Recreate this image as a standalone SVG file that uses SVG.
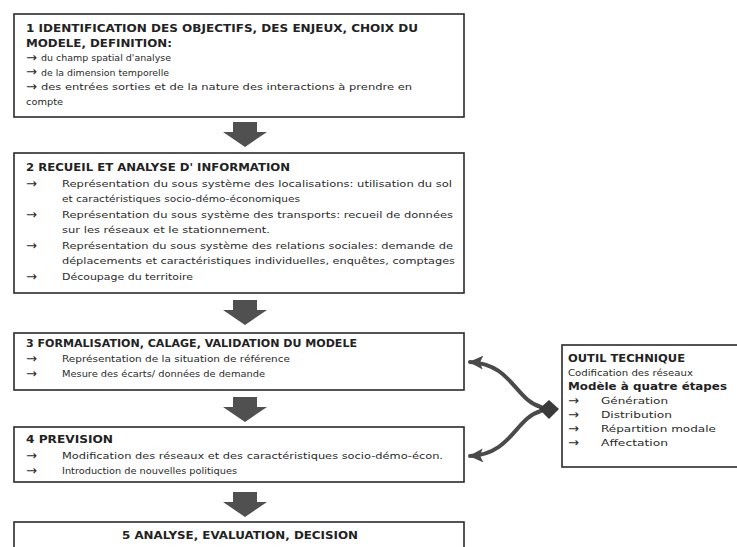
<svg xmlns="http://www.w3.org/2000/svg" width="737" height="547" viewBox="0 0 737 547">
  <style>
    .box { fill: #ffffff; stroke: #2a2a2a; stroke-width: 1.6; }
    .h { font-family: "DejaVu Sans", Verdana, sans-serif; font-size: 10px; font-weight: bold; fill: #222222; }
    .t { font-family: "DejaVu Sans", Verdana, sans-serif; font-size: 9.5px; fill: #2a2a2a; }
    .a { font-family: "DejaVu Sans", Verdana, sans-serif; font-size: 13px; fill: #2a2a2a; }
    .step { fill: #505050; }
    .link { fill: none; stroke: #4a4a4a; stroke-width: 4; stroke-linecap: round; }
  </style>
  <defs>
    <marker id="head" markerUnits="userSpaceOnUse" markerWidth="16" markerHeight="16" refX="13" refY="7" orient="auto">
      <path d="M0,0 L14,7 L0,14 L3,7 z" fill="#4a4a4a"/>
    </marker>
  </defs>
  <rect width="737" height="547" fill="#ffffff"/>

  <!-- step 1 -->
  <g id="step1">
    <rect class="box" x="14" y="14" width="450" height="103"/>
    <text class="h" x="26" y="32" textLength="392" lengthAdjust="spacingAndGlyphs">1 IDENTIFICATION DES OBJECTIFS, DES ENJEUX, CHOIX DU</text>
    <text class="h" x="26" y="46.5" textLength="146" lengthAdjust="spacingAndGlyphs">MODELE, DEFINITION:</text>
    <text class="a" x="26" y="61.5">→</text>
    <text class="t" x="41" y="61" textLength="130" lengthAdjust="spacingAndGlyphs">du champ spatial d'analyse</text>
    <text class="a" x="26" y="76">→</text>
    <text class="t" x="41" y="75.5" textLength="128" lengthAdjust="spacingAndGlyphs">de la dimension temporelle</text>
    <text class="a" x="26" y="90.5">→</text>
    <text class="t" x="41" y="90" textLength="371" lengthAdjust="spacingAndGlyphs">des entrées sorties et de la nature des interactions à prendre en</text>
    <text class="t" x="26" y="104.5" textLength="37" lengthAdjust="spacingAndGlyphs">compte</text>
  </g>

  <!-- step 2 -->
  <g id="step2">
    <rect class="box" x="14" y="153" width="450" height="140"/>
    <text class="h" x="26" y="171" textLength="264" lengthAdjust="spacingAndGlyphs">2 RECUEIL ET ANALYSE D' INFORMATION</text>
    <text class="a" x="26" y="187.5">→</text>
    <text class="t" x="62" y="187" textLength="390" lengthAdjust="spacingAndGlyphs">Représentation du sous système des localisations: utilisation du sol</text>
    <text class="t" x="62" y="202" textLength="238" lengthAdjust="spacingAndGlyphs">et caractéristiques socio-démo-économiques</text>
    <text class="a" x="26" y="218.5">→</text>
    <text class="t" x="62" y="218" textLength="391" lengthAdjust="spacingAndGlyphs">Représentation du sous système des transports: recueil de données</text>
    <text class="t" x="62" y="233" textLength="208" lengthAdjust="spacingAndGlyphs">sur les réseaux et le stationnement.</text>
    <text class="a" x="26" y="249.5">→</text>
    <text class="t" x="62" y="249" textLength="391" lengthAdjust="spacingAndGlyphs">Représentation du sous système des relations sociales: demande de</text>
    <text class="t" x="62" y="264" textLength="393" lengthAdjust="spacingAndGlyphs">déplacements et caractéristiques individuelles, enquêtes, comptages</text>
    <text class="a" x="26" y="280.5">→</text>
    <text class="t" x="62" y="280" textLength="131" lengthAdjust="spacingAndGlyphs">Découpage du territoire</text>
  </g>

  <!-- step 3 -->
  <g id="step3">
    <rect class="box" x="14" y="333" width="450" height="57"/>
    <text class="h" x="26" y="347" textLength="331" lengthAdjust="spacingAndGlyphs">3 FORMALISATION, CALAGE, VALIDATION DU MODELE</text>
    <text class="a" x="26" y="362.5">→</text>
    <text class="t" x="62" y="362" textLength="228" lengthAdjust="spacingAndGlyphs">Représentation de la situation de référence</text>
    <text class="a" x="26" y="377.5">→</text>
    <text class="t" x="62" y="377" textLength="203" lengthAdjust="spacingAndGlyphs">Mesure des écarts/ données de demande</text>
  </g>

  <!-- step 4 -->
  <g id="step4">
    <rect class="box" x="14" y="427" width="450" height="55"/>
    <text class="h" x="26" y="443" textLength="87" lengthAdjust="spacingAndGlyphs">4 PREVISION</text>
    <text class="a" x="26" y="459.5">→</text>
    <text class="t" x="62" y="459" textLength="381" lengthAdjust="spacingAndGlyphs">Modification des réseaux et des caractéristiques socio-démo-écon.</text>
    <text class="a" x="26" y="474.5">→</text>
    <text class="t" x="62" y="474" textLength="175" lengthAdjust="spacingAndGlyphs">Introduction de nouvelles politiques</text>
  </g>

  <!-- step 5 -->
  <g id="step5">
    <rect class="box" x="14" y="522" width="450" height="40"/>
    <text class="h" x="240" y="539" text-anchor="middle" textLength="236" lengthAdjust="spacingAndGlyphs">5 ANALYSE, EVALUATION, DECISION</text>
  </g>

  <!-- technical tool -->
  <g id="tool">
    <rect class="box" x="562" y="345" width="185" height="122"/>
    <text class="h" x="568" y="362" textLength="117" lengthAdjust="spacingAndGlyphs">OUTIL TECHNIQUE</text>
    <text class="t" x="568" y="376" textLength="125" lengthAdjust="spacingAndGlyphs">Codification des réseaux</text>
    <text class="h" x="568" y="390" textLength="159" lengthAdjust="spacingAndGlyphs">Modèle à quatre étapes</text>
    <text class="a" x="568" y="404.5">→</text>
    <text class="t" x="601" y="404" textLength="67" lengthAdjust="spacingAndGlyphs">Génération</text>
    <text class="a" x="568" y="418.5">→</text>
    <text class="t" x="601" y="418" textLength="71" lengthAdjust="spacingAndGlyphs">Distribution</text>
    <text class="a" x="568" y="432.5">→</text>
    <text class="t" x="601" y="432" textLength="115" lengthAdjust="spacingAndGlyphs">Répartition modale</text>
    <text class="a" x="568" y="446.5">→</text>
    <text class="t" x="601" y="446" textLength="67" lengthAdjust="spacingAndGlyphs">Affectation</text>
  </g>

  <!-- connectors -->
  <g id="connectors">
    <path class="step" d="M233,122 H257 V132 H267 L245,147 L223,132 H233 z"/>
    <path class="step" d="M233,300 H257 V310 H267 L245,325 L223,310 H233 z"/>
    <path class="step" d="M233,397 H257 V407 H267 L245,422 L223,407 H233 z"/>
    <path class="step" d="M233,492 H257 V502 H267 L245,517 L223,502 H233 z"/>
    <path class="link" d="M541,407 C515,400 512,364 470,362" marker-end="url(#head)"/>
    <path class="link" d="M541,411 C515,418 512,454 470,456" marker-end="url(#head)"/>
    <polygon points="539,409 549,400 559,409 549,419" fill="#3a3a3a"/>
  </g>
</svg>
